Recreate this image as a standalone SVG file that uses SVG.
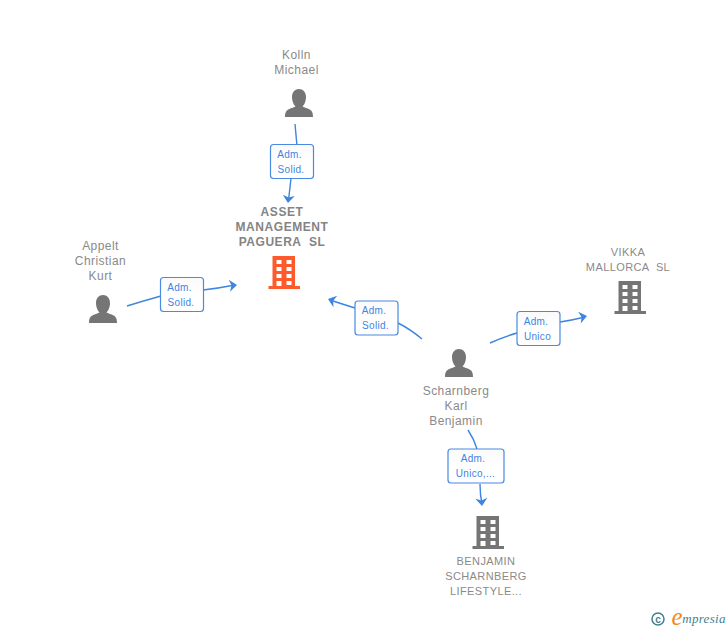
<svg xmlns="http://www.w3.org/2000/svg" width="728" height="630" viewBox="0 0 728 630">
<style>
text{font-family:"Liberation Sans",Arial,sans-serif;text-anchor:middle;white-space:pre}
.n{font-size:12px;fill:#8a8a8a;letter-spacing:.45px}
.c{font-size:11px;fill:#8a8a8a;letter-spacing:.4px}
.b{font-size:12px;fill:#848484;font-weight:700;letter-spacing:.55px}
.l{font-size:10px;fill:#3f84e0;letter-spacing:.3px}
.box{fill:url(#g);stroke:#4a8ae2;stroke-width:1.2}
.e{fill:none;stroke:#3f84e0;stroke-width:1.4}
.a{fill:#3f84e0;stroke:none}
.p{fill:#757575}
</style>
<defs>
<linearGradient id="g" x1="0" y1="0" x2="0" y2="1"><stop offset="0" stop-color="#fafafa"/><stop offset=".5" stop-color="#fff"/><stop offset="1" stop-color="#fff"/></linearGradient>
<path id="person" d="M-14 14C-14 8-12 6.500-7 5L-3.500 3.500C-6 1-7-3-7-6-7-11-4-14 0-14S7-11 7-6C7-3 6 1 3.500 3.500L7 5C12 6.500 14 8 14 14Z"/>
<path id="bld" fill-rule="evenodd" d="M-12-17H10.500V13H15.500V16H-16V13H-12ZM-8-13V-9H-3V-13ZM2-13V-9H7V-13ZM-8-6V-2H-3V-6ZM2-6V-2H7V-6ZM-8 1V5H-3V1ZM2 1V5H7V1ZM-8 8V13H-3V8ZM2 8V12H7V8Z"/>
<path id="arr" d="M0 0L-7 -5.500L-5 0L-7 5.500Z"/>
</defs>
<g id="connectors">
<path class="e" d="M295 124Q296 135 297 146"/>
<path class="e" d="M291 178Q290 188 288.500 200"/>
<use href="#arr" class="a" transform="translate(288 203) rotate(96) scale(1.1)"/>
<path class="e" d="M127 306Q143 301 161 296"/>
<path class="e" d="M203 290Q220 288 235 285"/>
<use href="#arr" class="a" transform="translate(237 285) rotate(-6) scale(1.1)"/>
<path class="e" d="M422 339Q410 329 398 323"/>
<path class="e" d="M355 308Q342 304 330 300"/>
<use href="#arr" class="a" transform="translate(328 299) rotate(198) scale(1.1)"/>
<path class="e" d="M490 343Q503 337 517 333"/>
<path class="e" d="M560 322Q573 320 585 317"/>
<use href="#arr" class="a" transform="translate(587 316) rotate(-12) scale(1.1)"/>
<path class="e" d="M468 430Q474 439 477 449"/>
<path class="e" d="M480 484Q480 495 482 504"/>
<use href="#arr" class="a" transform="translate(482 506) rotate(85) scale(1.1)"/>
</g>
<g id="node-asset">
<text class="b" x="282" y="215.500">ASSET</text>
<text class="b" x="282" y="230.500">MANAGEMENT</text>
<text class="b" x="282" y="245.500">PAGUERA  SL</text>
<use href="#bld" fill="#ff5a2c" transform="translate(284.500 273)"/>
</g>
<g id="node-kolln">
<text class="n" x="296.500" y="59">Kolln</text>
<text class="n" x="296.500" y="74">Michael</text>
<use href="#person" class="p" transform="translate(299 103)"/>
</g>
<g id="node-appelt">
<text class="n" x="100.500" y="250">Appelt</text>
<text class="n" x="100.500" y="265">Christian</text>
<text class="n" x="100.500" y="280">Kurt</text>
<use href="#person" class="p" transform="translate(103 309)"/>
</g>
<g id="node-scharnberg">
<use href="#person" class="p" transform="translate(459 363)"/>
<text class="n" x="456" y="395">Scharnberg</text>
<text class="n" x="456" y="410">Karl</text>
<text class="n" x="456" y="425">Benjamin</text>
</g>
<g id="node-vikka">
<text class="c" x="628" y="256">VIKKA</text>
<text class="c" x="628" y="271">MALLORCA  SL</text>
<use href="#bld" class="p" transform="translate(630.500 298)"/>
</g>
<g id="node-benjamin">
<use href="#bld" class="p" transform="translate(488.500 533)"/>
<text class="c" x="486" y="565">BENJAMIN</text>
<text class="c" x="486" y="580">SCHARNBERG</text>
<text class="c" x="486" y="595">LIFESTYLE...</text>
</g>
<g id="label-1">
<rect class="box" x="270.500" y="144.500" width="43" height="34" rx="3"/>
<text class="l" x="289.500" y="158">Adm.</text><text class="l" x="291" y="173">Solid.</text>
</g>
<g id="label-2">
<rect class="box" x="160.500" y="277.500" width="43" height="34" rx="3"/>
<text class="l" x="179.500" y="291">Adm.</text><text class="l" x="181" y="306">Solid.</text>
</g>
<g id="label-3">
<rect class="box" x="355" y="301" width="43" height="34" rx="3"/>
<text class="l" x="374" y="314">Adm.</text><text class="l" x="375.500" y="329">Solid.</text>
</g>
<g id="label-4">
<rect class="box" x="517" y="311.500" width="43" height="34" rx="3"/>
<text class="l" x="536" y="325">Adm.</text><text class="l" x="537.500" y="340">Unico</text>
</g>
<g id="label-5">
<rect class="box" x="448" y="449" width="56" height="34" rx="3"/>
<text class="l" x="473" y="462">Adm.</text><text class="l" x="475.500" y="477">Unico,...</text>
</g>
<g id="logo">
<circle cx="658" cy="619" r="6" fill="none" stroke="#3f7f93" stroke-width="1.5"/>
<text x="658" y="622.500" style="font-size:10px;fill:#3f7f93;font-weight:700">c</text>
<text x="677" y="625" style="font-size:25px;fill:#f08a1d;font-family:'Liberation Serif',serif;font-style:italic">e</text>
<text x="704" y="623" style="font-size:13px;fill:#3f7f93;font-family:'Liberation Serif',serif;font-style:italic;letter-spacing:.3px">mpresia</text>
</g>
</svg>
